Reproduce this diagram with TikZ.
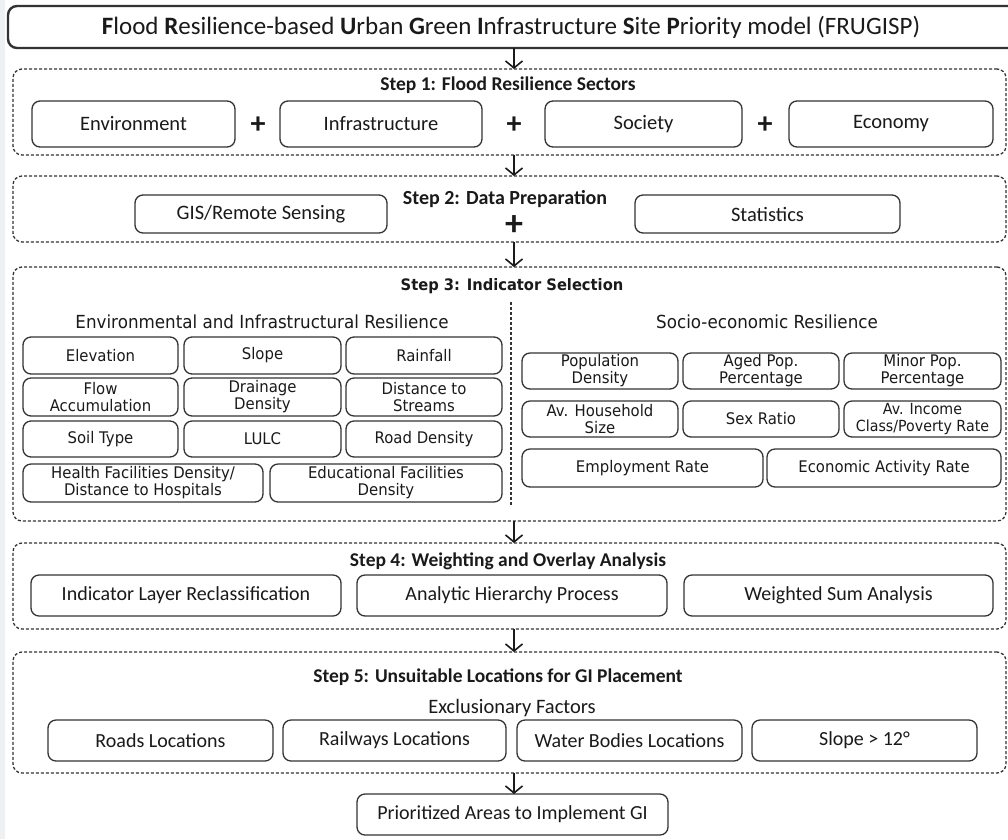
\documentclass[tikz,border=0pt]{standalone}
\usepackage{fontspec}
\setmainfont{Carlito}
\newfontfamily\vfont[FakeStretch=0.93]{DejaVu Sans}
\usetikzlibrary{arrows.meta}
\definecolor{ink}{HTML}{1A1A1A}
\definecolor{edge}{HTML}{333333}
\definecolor{margin}{HTML}{EEF0F1}

% box from corner (x1,y1) to corner (x2,y2), in pixel units
\newcommand\boxat[7]{%
  \node[#1,minimum width={(#4)-(#2)},minimum height={(#5)-(#3)}] (#6)
    at ({((#2)+(#4))/2},{((#3)+(#5))/2}) {#7};}
\newcommand\fs[2]{\fontsize{#1}{#2}\selectfont}

\begin{document}
\begin{tikzpicture}[x=1pt,y=-1pt,
  every node/.style={text=ink,inner sep=0pt,outer sep=0pt},
  stepbox/.style={draw=edge,line width=1.3pt,dash pattern=on 3pt off 2pt,
    rounded corners=9pt},
  item/.style={draw=edge,line width=1.3pt,rounded corners=8pt,fill=white,
    align=center},
  headbox/.style={item,line width=2.4pt,rounded corners=9pt},
  bigitem/.style={item,font=\fs{20.5}{22}},
  smallitem/.style={item,font=\fs{20}{22}},
  ind/.style={item,font=\vfont\fs{16}{17}},
  steptitle/.style={font=\bfseries\fs{19.5}{21}},
  plus/.style={font=\bfseries\fs{30}{30}},
  arr/.style={draw=ink,line width=1.3pt,-{Straight Barb[length=7pt,width=17pt,line width=1.6pt]}},
  divider/.style={draw=edge,line width=1.3pt,dash pattern=on 3pt off 2pt}]

\useasboundingbox (0,0) rectangle (1008,839);
\fill[white] (0,0) rectangle (1008,839);
\fill[margin] (0,0) rectangle (5,839);

\coordinate (axis) at (514,0);

% model title
\boxat{headbox,font=\fs{25}{27}}{8}{6}{1030}{48}{title}{%
  \hspace*{-16pt}{\bfseries F}lood {\bfseries R}esilience-based {\bfseries U}rban
  {\bfseries G}reen {\bfseries I}nfrastructure {\bfseries S}ite
  {\bfseries P}riority model (FRUGISP)}

% step 1
\boxat{stepbox}{13}{69}{1006}{155}{s1}{}
\node[steptitle] (t1) at (508,85) {Step 1: Flood Resilience Sectors};
\boxat{bigitem}{32}{101}{235}{147}{env}{Environment}
\boxat{bigitem}{280}{101}{482}{147}{inf}{Infrastructure}
\boxat{bigitem}{545}{101}{742}{147}{soc}{Society}
\boxat{bigitem}{789}{101}{993}{147}{eco}{Economy}
\node[plus] (p1) at (258,125) {+};
\node[plus] (p2) at (514,125) {+};
\node[plus] (p3) at (765,125) {+};

% step 2
\boxat{stepbox}{13}{176}{1006}{242}{s2}{}
\node[steptitle,font=\bfseries\fs{20}{21}] (t2) at (505,199) {Step 2: Data Preparation};
\boxat{bigitem}{135}{195}{387}{233}{gis}{GIS/Remote Sensing}
\boxat{bigitem}{635}{195}{900}{233}{sta}{Statistics}
\node[plus,font=\bfseries\fs{36}{36}] (p4) at (514,226) {+};

% step 3
\boxat{stepbox}{13}{267}{1006}{521}{s3}{}
\node[font=\vfont\bfseries\fs{15.8}{17}] (t3) at (512,286) {Step 3: Indicator Selection};
\coordinate (divT) at (511,302);
\coordinate (divB) at (511,505);
\draw[divider] (divT) -- (divB);
\node[font=\vfont\fs{18}{20}] (h1) at (262,322) {Environmental and Infrastructural Resilience};
\node[font=\vfont\fs{18}{20}] (h2) at (767,322) {Socio-economic Resilience};

\boxat{ind}{23}{337}{178}{374}{elev}{Elevation}
\boxat{ind}{184}{337}{341}{374}{slope}{Slope}
\boxat{ind}{346}{337}{502}{374}{rain}{Rainfall}
\boxat{ind}{23}{378}{178}{416}{flow}{Flow\\Accumulation}
\boxat{ind}{184}{378}{341}{416}{drain}{Drainage\\Density}
\boxat{ind}{346}{378}{502}{416}{dist}{Distance to\\Streams}
\boxat{ind}{23}{421}{178}{457}{soil}{Soil Type}
\boxat{ind}{184}{421}{341}{457}{lulc}{LULC}
\boxat{ind}{346}{421}{502}{457}{road}{Road Density}
\boxat{ind}{23}{464}{263}{502}{health}{Health Facilities Density/\\Distance to Hospitals}
\boxat{ind}{270}{464}{502}{502}{edu}{Educational Facilities\\Density}

\boxat{ind}{522}{353}{678}{389}{popd}{Population\\Density}
\boxat{ind}{683}{353}{839}{389}{aged}{Aged Pop.\\Percentage}
\boxat{ind}{844}{353}{1001}{389}{minor}{Minor Pop.\\Percentage}
\boxat{ind}{522}{401}{678}{437}{hh}{Av. Household\\Size}
\boxat{ind}{683}{401}{839}{437}{sex}{Sex Ratio}
\boxat{ind,font=\vfont\fs{15.3}{17}}{844}{401}{1001}{437}{inc}{Av. Income\\Class/Poverty Rate}
\boxat{ind}{522}{449}{763}{487}{emp}{Employment Rate}
\boxat{ind}{767}{449}{1001}{487}{act}{Economic Activity Rate}

% step 4
\boxat{stepbox}{13}{543}{1006}{629}{s4}{}
\node[steptitle] (t4) at (508,561) {Step 4: Weighting and Overlay Analysis};
\boxat{smallitem}{31}{575}{341}{616}{recl}{Indicator Layer Reclassification}
\boxat{smallitem}{357}{575}{667}{616}{ahp}{Analytic Hierarchy Process}
\boxat{smallitem}{684}{575}{993}{616}{wsa}{Weighted Sum Analysis}

% step 5
\boxat{stepbox}{13}{652}{1006}{773}{s5}{}
\node[steptitle] (t5) at (498,677) {Step 5: Unsuitable Locations for GI Placement};
\node[font=\fs{20.5}{22}] (ex) at (512,708) {Exclusionary Factors};
\boxat{smallitem}{48}{720}{273}{761}{rl}{Roads Locations}
\boxat{smallitem}{283}{720}{506}{761}{rwl}{Railways Locations}
\boxat{smallitem}{517}{720}{742}{761}{wbl}{Water Bodies Locations}
\boxat{smallitem}{752}{720}{977}{761}{sl}{Slope > 12°}

% result
\boxat{smallitem}{357}{794}{668}{835}{res}{Prioritized Areas to Implement GI}

% flow between the stages
\draw[arr] (title.south -| axis) -- (s1.north -| axis);
\draw[arr] (s1.south -| axis) -- (s2.north -| axis);
\draw[arr] (s2.south -| axis) -- (s3.north -| axis);
\draw[arr] (s3.south -| axis) -- (s4.north -| axis);
\draw[arr] (s4.south -| axis) -- (s5.north -| axis);
\draw[arr] (s5.south -| axis) -- (res.north -| axis);
\end{tikzpicture}
\end{document}
